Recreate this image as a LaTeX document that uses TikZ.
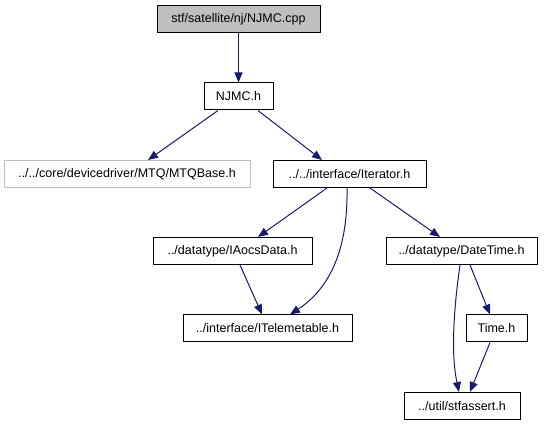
\documentclass[tikz,border=0pt]{standalone}
\usepackage{fontspec}
\setmainfont{Liberation Sans}
\usetikzlibrary{arrows.meta}
\definecolor{edgeblue}{HTML}{191970}
\definecolor{grayfill}{HTML}{BFBFBF}
\tikzset{
  filebox/.style={draw=black, line width=1pt, fill=white, minimum height=27pt, inner sep=0pt, font=\fontsize{12.5pt}{14pt}\selectfont},
  rootbox/.style={filebox, fill=grayfill},
  extbox/.style={filebox, draw=grayfill},
  dep/.style={draw=edgeblue, line width=1pt, -{Triangle[length=10pt,width=8pt]}}
}
\begin{document}
\begin{tikzpicture}[x=1pt,y=-1pt]
\useasboundingbox (0,0) rectangle (547,427);
\node[rootbox, minimum width=163pt] (cpp) at (238.5,19.5) {stf/satellite/nj/NJMC.cpp};
\node[filebox, minimum width=69pt] (njmch) at (238.5,96.5) {NJMC.h};
\node[extbox, minimum width=246pt] (mtq) at (127,174) {../../core/devicedriver/MTQ/MTQBase.h};
\node[filebox, minimum width=153pt] (iter) at (349.5,174) {../../interface/Iterator.h};
\node[filebox, minimum width=159pt] (iaocs) at (232.5,251) {../datatype/IAocsData.h};
\node[filebox, minimum width=151pt] (dt) at (461.5,251) {../datatype/DateTime.h};
\node[filebox, minimum width=169pt] (itel) at (267.5,328.5) {../interface/ITelemetable.h};
\node[filebox, minimum width=61pt] (time) at (496.5,328.5) {Time.h};
\node[filebox, minimum width=116pt] (sa) at (462,406) {../util/stfassert.h};

\draw[dep] (cpp.south) -- (njmch.north);
\draw[dep] ([xshift=-20.5pt]njmch.south) -- ([xshift=21pt]mtq.north);
\draw[dep] ([xshift=19.5pt]njmch.south) -- ([xshift=-27.5pt]iter.north);
\draw[dep] ([xshift=-22.5pt]iter.south) -- ([xshift=25.5pt]iaocs.north);
\draw[dep] ([xshift=-2.5pt]iter.south) .. controls (348,240) and (335,285) .. ([xshift=22.5pt]itel.north);
\draw[dep] ([xshift=20.5pt]iter.south) -- ([xshift=-21.5pt]dt.north);
\draw[dep] ([xshift=7.5pt]iaocs.south) -- ([xshift=-5.5pt]itel.north);
\draw[dep] ([xshift=-1.5pt]dt.south) .. controls (455,300) and (450,350) .. ([xshift=-3pt]sa.north);
\draw[dep] ([xshift=8.5pt]dt.south) -- ([xshift=-6.5pt]time.north);
\draw[dep] ([xshift=-6.5pt]time.south) -- ([xshift=8pt]sa.north);
\end{tikzpicture}
\end{document}
